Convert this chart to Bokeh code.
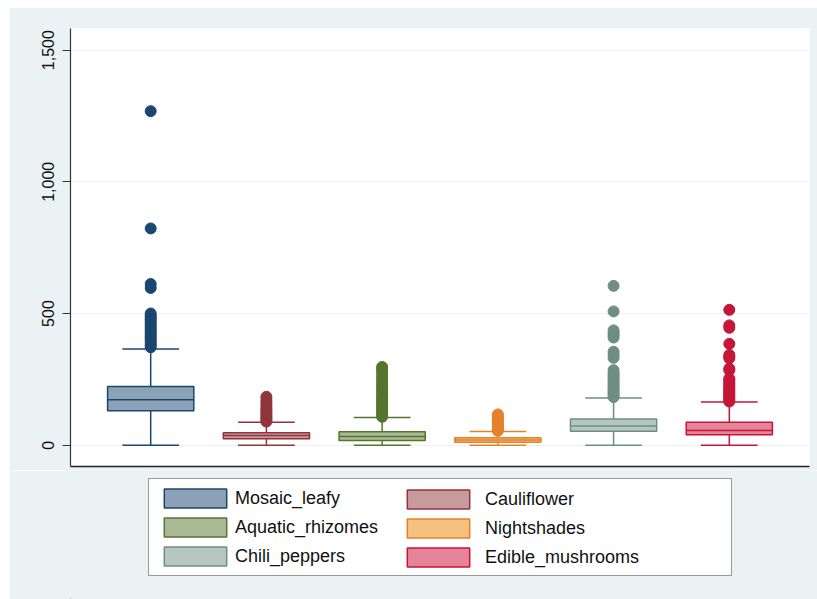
from bokeh.plotting import figure
from bokeh.models import (Range1d, FixedTicker, NumeralTickFormatter, Legend, LegendItem,
                          LinearAxis, ColumnDataSource, Spacer)
from bokeh.layouts import column, row
from bokeh.embed import file_html
from bokeh.resources import INLINE

# Box-plot summaries per vegetable group
groups = ["Mosaic_leafy", "Cauliflower", "Aquatic_rhizomes",
          "Nightshades", "Chili_peppers", "Edible_mushrooms"]
lower_whisker = [0, 0, 0, 0, 0, 0]
q1 = [131, 25, 18, 11, 53, 40]
median = [173, 37, 33, 20, 73, 56]
q3 = [223, 47, 51, 28, 100, 87]
upper_whisker = [365, 87, 105, 52, 179, 164]

# Outside values for each group
outliers = {
    "Mosaic_leafy": [372, 380, 388, 396, 404, 412, 420, 428, 436, 444, 452, 460,
                     468, 476, 484, 492, 500, 597, 612, 823, 1268],
    "Cauliflower": [90, 97, 104, 111, 118, 125, 133, 141, 150, 160, 171, 184],
    "Aquatic_rhizomes": [108, 116, 124, 132, 140, 149, 158, 167, 176, 186, 196,
                         206, 217, 228, 240, 252, 264, 276, 287, 297],
    "Nightshades": [55, 60, 66, 72, 78, 85, 92, 100, 108, 117],
    "Chili_peppers": [183, 190, 197, 204, 211, 218, 226, 234, 242, 250, 258, 266,
                      275, 285, 332, 343, 355, 409, 418, 427, 436, 508, 605],
    "Edible_mushrooms": [166, 172, 178, 184, 190, 196, 202, 208, 214, 220, 227,
                         234, 241, 248, 253, 285, 291, 330, 337, 343, 385, 446,
                         455, 514],
}

y_ticks = [0, 500, 1000, 1500]

line_colors = ["#1a476f", "#90353b", "#55752f", "#e5812a", "#6e8e84", "#c41639"]
fill_colors = ["#8ca3b7", "#c79a9d", "#aaba97", "#f6c07f", "#b6c6c1", "#e5839b"]

BG = "#eaf2f3"
FONT = "Liberation Sans"
pos = list(range(1, len(groups) + 1))
box_w = 0.745
cap_w = 0.49

src = ColumnDataSource(dict(
    x=pos, lo=lower_whisker, q1=q1, med=median, q3=q3, hi=upper_whisker,
    lc=line_colors, fc=fill_colors,
    bx0=[v - box_w / 2 for v in pos], bx1=[v + box_w / 2 for v in pos],
    cx0=[v - cap_w / 2 for v in pos], cx1=[v + cap_w / 2 for v in pos],
))

# ---- main box-plot panel ----
p = figure(width=808, height=463, x_range=Range1d(0.307, 6.693),
           y_range=Range1d(-80.7, 1582), output_backend="svg",
           toolbar_location=None, x_axis_location=None,
           min_border_left=61, min_border_right=8, min_border_top=21,
           min_border_bottom=4)
p.background_fill_color = "white"
p.border_fill_color = BG
p.outline_line_color = None

ya = p.yaxis[0]
ya.ticker = FixedTicker(ticks=y_ticks)
ya.formatter = NumeralTickFormatter(format="0,0")
ya.major_label_orientation = "vertical"
ya.major_tick_out = 8
ya.major_tick_in = 0
ya.minor_tick_line_color = None
ya.major_label_standoff = 8
ya.major_label_text_font = FONT
ya.major_label_text_font_size = "16px"
ya.major_label_text_color = "#111111"
ya.axis_line_color = "#333333"
ya.axis_line_width = 1.2
ya.major_tick_line_color = "#333333"

# bare x axis line
xa = LinearAxis(ticker=FixedTicker(ticks=[]), major_label_text_font_size="0px",
                major_tick_line_color=None, minor_tick_line_color=None,
                axis_line_color="#222222", axis_line_width=1.6,
                major_label_standoff=0)
p.add_layout(xa, "below")

p.xgrid.grid_line_color = None
p.ygrid.ticker = FixedTicker(ticks=y_ticks)
p.ygrid.grid_line_color = BG
p.ygrid.grid_line_width = 1

# whiskers and caps
p.segment(x0="x", y0="q3", x1="x", y1="hi", source=src, line_color="lc", line_width=1.5)
p.segment(x0="x", y0="q1", x1="x", y1="lo", source=src, line_color="lc", line_width=1.5)
p.segment(x0="cx0", y0="hi", x1="cx1", y1="hi", source=src, line_color="lc", line_width=1.5)
p.segment(x0="cx0", y0="lo", x1="cx1", y1="lo", source=src, line_color="lc", line_width=1.5)

# boxes and medians
p.vbar(x="x", width=box_w, bottom="q1", top="q3", source=src,
       fill_color="fc", line_color="lc", line_width=1.5)
p.segment(x0="bx0", y0="med", x1="bx1", y1="med", source=src, line_color="lc", line_width=1.5)

# outside values
for i, g in enumerate(groups):
    vals = outliers[g]
    p.scatter(x=[pos[i]] * len(vals), y=vals, size=11, marker="circle",
              fill_color=line_colors[i], line_color=line_colors[i])

# ---- legend strip (same side borders as the plot so frames line up) ----
leg = figure(width=808, height=129, x_range=Range1d(0, 1), y_range=Range1d(0, 1),
             output_backend="svg", toolbar_location=None,
             x_axis_location=None, y_axis_location=None,
             min_border_left=61, min_border_right=8, min_border_top=0,
             min_border_bottom=0)
leg.background_fill_color = BG
leg.border_fill_color = BG
leg.outline_line_color = None
leg.grid.visible = False

# legend swatch proxies (kept outside the visible range)
swatch = {}
for i, g in enumerate(groups):
    swatch[g] = leg.vbar(x=[-5], bottom=[-5], top=[-4], width=0.5,
                         fill_color=fill_colors[i], line_color=line_colors[i],
                         line_width=1.5)

left_col = ["Mosaic_leafy", "Aquatic_rhizomes", "Chili_peppers"]
right_col = ["Cauliflower", "Nightshades", "Edible_mushrooms"]

common = dict(label_text_font=FONT, label_text_font_size="18px",
              label_text_color="#111111", glyph_width=78, glyph_height=24,
              label_height=24, spacing=5, margin=0)

# left column carries the framed white box
legend_left = Legend(items=[LegendItem(label=g, renderers=[swatch[g]]) for g in left_col],
                     location=(78, 23), label_width=489, label_standoff=1, padding=7,
                     border_line_color="#333333", border_line_width=1,
                     background_fill_color="white", background_fill_alpha=1.0,
                     **common)
legend_right = Legend(items=[LegendItem(label=g, renderers=[swatch[g]]) for g in right_col],
                      location=(329, 30), label_standoff=8, padding=0,
                      border_line_color=None, background_fill_alpha=0.0, **common)
leg.add_layout(legend_left)
leg.add_layout(legend_right)

layout = column(Spacer(width=817, height=7),
                row(Spacer(width=9, height=592), column(p, leg)))

open("out.html", "w").write(file_html(layout, INLINE))
